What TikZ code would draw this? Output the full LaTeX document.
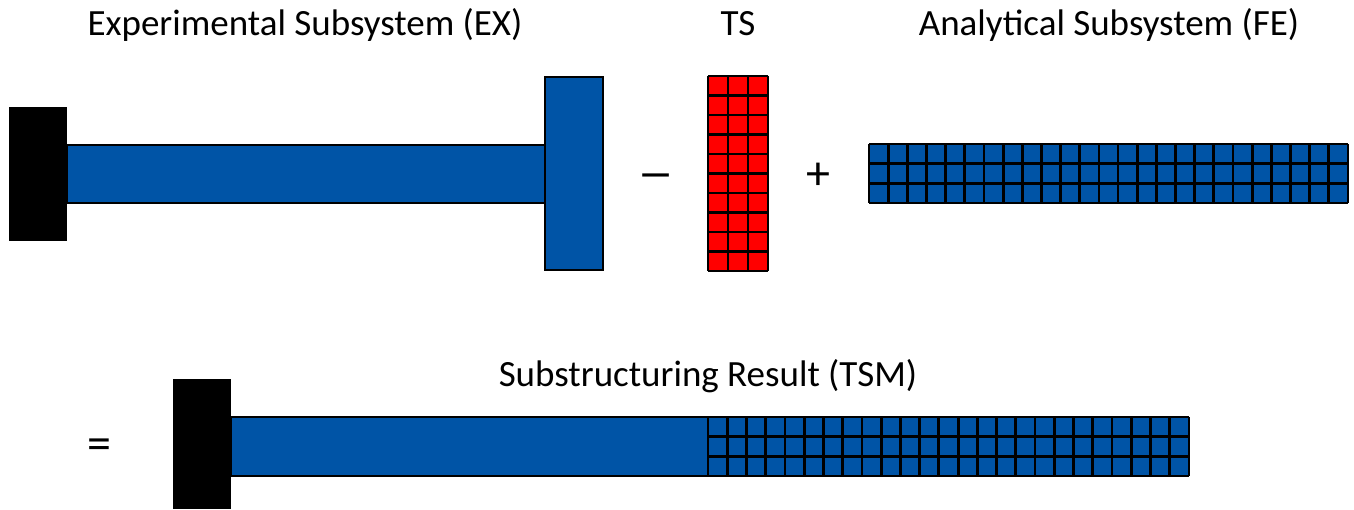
\documentclass[tikz,border=0pt]{standalone}
\usepackage{fontspec}
\setmainfont{Carlito}
\definecolor{beamblue}{RGB}{0,84,166}
\definecolor{tsred}{RGB}{255,0,0}
\tikzset{
  label/.style={font=\fontsize{37}{42}\selectfont, anchor=base, inner sep=0pt},
  symbol/.style={font=\fontsize{48}{54}\selectfont, inner sep=0pt},
  clamp/.style={fill=black},
  beam/.style={fill=beamblue, draw=black, line width=2pt},
  gridline/.style={draw=black, line width=2.8pt, line cap=square},
}
\begin{document}
\begin{tikzpicture}[x=1pt,y=1pt]
\useasboundingbox (0,0) rectangle (1354,-509);

% ---- titles
\node[label] (exlabel) at (305,-35) {Experimental Subsystem (EX)};
\node[label] (tslabel) at (738,-35) {TS};
\node[label] (felabel) at (1109,-35) {Analytical Subsystem (FE)};
\node[label] (tsmlabel) at (708,-386) {Substructuring Result (TSM)};

% ---- experimental subsystem: clamp, beam, tip mass
\fill[clamp] (9,-107) rectangle (67,-241);
\draw[beam] (67,-145) rectangle (545,-203);
\draw[beam] (545,-77) rectangle (603,-270);

% ---- operators
\node[symbol] (minus) at (656,-182) {\scalebox{1.55}[1.05]{–}};
\node[symbol] (plus) at (818,-176) {+};
\node[symbol] (equals) at (99,-449) {=};

% ---- transmission simulator: 3 x 10 red mesh
\fill[tsred] (708,-76) rectangle (768,-271);
\foreach \i in {0,...,3}
  \draw[gridline] ({708+\i*20},-76) -- ++(0,-195);
\foreach \j in {0,...,10}
  \draw[gridline] (708,{-76-\j*19.5}) -- ++(60,0);

% ---- analytical subsystem: 25 x 3 blue mesh
\fill[beamblue] (869,-144) rectangle (1348,-203);
\foreach \i in {0,...,25}
  \draw[gridline] ({869+\i*479/25},-144) -- ++(0,-59);
\foreach \j in {0,...,3}
  \draw[gridline] (869,{-144-\j*59/3}) -- ++(479,0);

% ---- coupled result: clamp, experimental beam, meshed part
\fill[clamp] (173,-379) rectangle (231,-509);
\draw[beam] (231,-417) rectangle (708,-476);
\fill[beamblue] (708,-417) rectangle (1189,-476);
\foreach \i in {0,...,25}
  \draw[gridline] ({708+\i*481/25},-417) -- ++(0,-59);
\foreach \j in {0,...,3}
  \draw[gridline] (708,{-417-\j*59/3}) -- ++(481,0);
\end{tikzpicture}
\end{document}
